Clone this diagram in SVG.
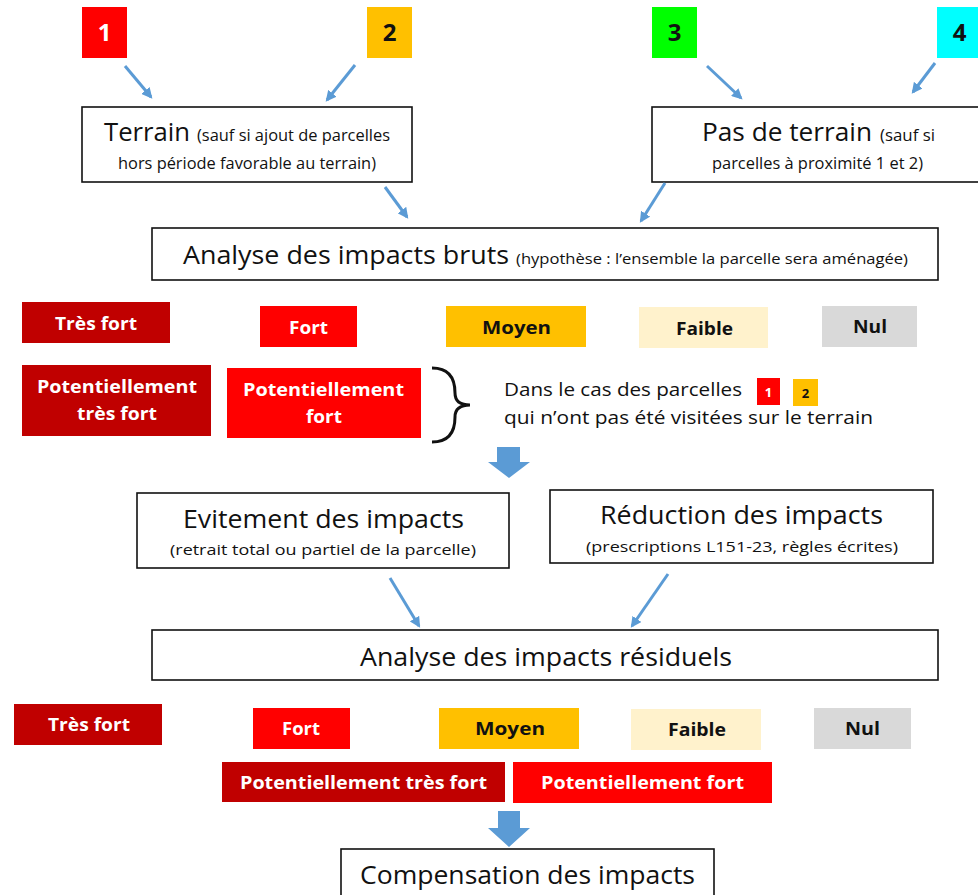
<svg xmlns="http://www.w3.org/2000/svg" width="978" height="895" viewBox="0 0 978 895">
<style>
text{font-family:"Open Sans","Noto Sans","Liberation Sans",sans-serif;fill:#111}
.b{font-weight:bold}
.w{fill:#fff}
.box{fill:#fff;stroke:#111;stroke-width:1.6}
.tf{fill:#C00000}.f{fill:#FF0000}.m{fill:#FFC000}.fa{fill:#FFF2CC}.n{fill:#D9D9D9}
.con{stroke:#5B9BD5;stroke-width:3;fill:none;marker-end:url(#ah)}
.big{fill:#5B9BD5}
</style>
<defs>
<marker id="ah" viewBox="0 0 10 10" refX="8" refY="5" markerWidth="3.6" markerHeight="3.6" orient="auto" markerUnits="strokeWidth">
<path d="M0,0 L10,5 L0,10 z" fill="#5B9BD5"/>
</marker>
</defs>

<g id="n1"><rect x="82" y="7" width="45" height="51" class="f"/><text x="104.5" y="41" font-size="24" class="b w" text-anchor="middle">1</text></g>
<g id="n2"><rect x="367" y="7" width="45" height="51" class="m"/><text x="389.5" y="41" font-size="24" class="b" text-anchor="middle">2</text></g>
<g id="n3"><rect x="652" y="7" width="45" height="51" fill="#00FF00"/><text x="674.5" y="41" font-size="24" class="b" text-anchor="middle">3</text></g>
<g id="n4"><rect x="937" y="7" width="45" height="51" fill="#00FFFF"/><text x="959.5" y="41" font-size="24" class="b" text-anchor="middle">4</text></g>

<g id="terrain"><rect x="82" y="107" width="330" height="75" class="box"/>
<text y="141" font-size="26"><tspan x="104" textLength="86" lengthAdjust="spacingAndGlyphs">Terrain</tspan></text>
<text x="197" y="141" font-size="16" textLength="193" lengthAdjust="spacingAndGlyphs">(sauf si ajout de parcelles</text>
<text x="118" y="169" font-size="16" textLength="258" lengthAdjust="spacingAndGlyphs">hors période favorable au terrain)</text></g>

<g id="pasterrain"><rect x="652" y="107" width="330" height="75" class="box"/>
<text x="702" y="141" font-size="26" textLength="170" lengthAdjust="spacingAndGlyphs">Pas de terrain</text>
<text x="880" y="141" font-size="16" textLength="55" lengthAdjust="spacingAndGlyphs">(sauf si</text>
<text x="712" y="169" font-size="16" textLength="211" lengthAdjust="spacingAndGlyphs">parcelles à proximité 1 et 2)</text></g>

<g id="bruts"><rect x="152" y="228" width="786" height="52" class="box"/>
<text x="183" y="264" font-size="26" textLength="326" lengthAdjust="spacingAndGlyphs">Analyse des impacts bruts</text>
<text x="516" y="264" font-size="15" textLength="392" lengthAdjust="spacingAndGlyphs">(hypothèse : l’ensemble la parcelle sera aménagée)</text></g>

<g id="r1-tf"><rect x="22" y="302" width="148" height="41" class="tf"/><text x="55" y="330" font-size="18" class="b w" textLength="82" lengthAdjust="spacingAndGlyphs">Très fort</text></g>
<g id="r1-f"><rect x="260" y="306" width="97" height="41" class="f"/><text x="289" y="334" font-size="18" class="b w" textLength="39" lengthAdjust="spacingAndGlyphs">Fort</text></g>
<g id="r1-m"><rect x="446" y="306" width="140" height="41" class="m"/><text x="482" y="334" font-size="18" class="b" textLength="69" lengthAdjust="spacingAndGlyphs">Moyen</text></g>
<g id="r1-fa"><rect x="639" y="307" width="129" height="41" class="fa"/><text x="676" y="335" font-size="18" class="b" textLength="57" lengthAdjust="spacingAndGlyphs">Faible</text></g>
<g id="r1-n"><rect x="822" y="306" width="95" height="41" class="n"/><text x="853" y="333" font-size="18" class="b" textLength="34" lengthAdjust="spacingAndGlyphs">Nul</text></g>

<g id="r2-ptf"><rect x="22" y="365" width="189" height="71" class="tf"/>
<text x="37" y="393" font-size="18" class="b w" textLength="160" lengthAdjust="spacingAndGlyphs">Potentiellement</text>
<text x="77" y="420" font-size="18" class="b w" textLength="80" lengthAdjust="spacingAndGlyphs">très fort</text></g>
<g id="r2-pf"><rect x="227" y="368" width="194" height="70" class="f"/>
<text x="243" y="396" font-size="18" class="b w" textLength="161" lengthAdjust="spacingAndGlyphs">Potentiellement</text>
<text x="306" y="423" font-size="18" class="b w" textLength="36" lengthAdjust="spacingAndGlyphs">fort</text></g>

<g id="brace"><path d="M432,368 C450,368 455,380 455,393 C455,401 460,405 470,405 C460,405 455,409 455,417 C455,430 450,442 432,442" fill="none" stroke="#111" stroke-width="3"/></g>
<g id="note">
<text x="504" y="396" font-size="18" textLength="238" lengthAdjust="spacingAndGlyphs">Dans le cas des parcelles</text>
<rect x="757" y="378" width="23" height="27" class="f"/><text x="768.5" y="397" font-size="13" class="b w" text-anchor="middle">1</text>
<rect x="793" y="379" width="25" height="27" class="m"/><text x="805.5" y="398" font-size="13" class="b" text-anchor="middle">2</text>
<text x="504" y="424" font-size="18" textLength="369" lengthAdjust="spacingAndGlyphs">qui n’ont pas été visitées sur le terrain</text></g>

<g id="evitement"><rect x="137" y="493" width="372" height="75" class="box"/>
<text x="183" y="528" font-size="26" textLength="281" lengthAdjust="spacingAndGlyphs">Evitement des impacts</text>
<text x="170" y="555" font-size="15" textLength="306" lengthAdjust="spacingAndGlyphs">(retrait total ou partiel de la parcelle)</text></g>

<g id="reduction"><rect x="550" y="490" width="383" height="73" class="box"/>
<text x="600" y="524" font-size="26" textLength="283" lengthAdjust="spacingAndGlyphs">Réduction des impacts</text>
<text x="586" y="552" font-size="15" textLength="312" lengthAdjust="spacingAndGlyphs">(prescriptions L151-23, règles écrites)</text></g>

<g id="residuels"><rect x="152" y="630" width="786" height="50" class="box"/>
<text x="360" y="666" font-size="26" textLength="372" lengthAdjust="spacingAndGlyphs">Analyse des impacts résiduels</text></g>

<g id="r3-tf"><rect x="14" y="704" width="148" height="41" class="tf"/><text x="48" y="731" font-size="18" class="b w" textLength="82" lengthAdjust="spacingAndGlyphs">Très fort</text></g>
<g id="r3-f"><rect x="253" y="708" width="97" height="41" class="f"/><text x="282" y="735" font-size="18" class="b w" textLength="38" lengthAdjust="spacingAndGlyphs">Fort</text></g>
<g id="r3-m"><rect x="439" y="708" width="140" height="41" class="m"/><text x="475" y="735" font-size="18" class="b" textLength="70" lengthAdjust="spacingAndGlyphs">Moyen</text></g>
<g id="r3-fa"><rect x="631" y="709" width="130" height="41" class="fa"/><text x="668" y="736" font-size="18" class="b" textLength="58" lengthAdjust="spacingAndGlyphs">Faible</text></g>
<g id="r3-n"><rect x="814" y="708" width="97" height="41" class="n"/><text x="845" y="735" font-size="18" class="b" textLength="35" lengthAdjust="spacingAndGlyphs">Nul</text></g>

<g id="r4-ptf"><rect x="222" y="762" width="283" height="40" class="tf"/><text x="240" y="789" font-size="18" class="b w" textLength="247" lengthAdjust="spacingAndGlyphs">Potentiellement très fort</text></g>
<g id="r4-pf"><rect x="513" y="762" width="259" height="41" class="f"/><text x="541" y="789" font-size="18" class="b w" textLength="203" lengthAdjust="spacingAndGlyphs">Potentiellement fort</text></g>

<g id="compensation"><rect x="341" y="849" width="373" height="50" class="box"/>
<text x="360" y="884" font-size="26" textLength="335" lengthAdjust="spacingAndGlyphs">Compensation des impacts</text></g>

<g id="connectors">
<line x1="125" y1="66" x2="151" y2="97" class="con"/>
<line x1="355" y1="65" x2="327" y2="100" class="con"/>
<line x1="707" y1="66" x2="741" y2="98" class="con"/>
<line x1="935" y1="63" x2="913" y2="92" class="con"/>
<line x1="385" y1="187" x2="407" y2="217" class="con"/>
<line x1="665" y1="183" x2="641" y2="221" class="con"/>
<line x1="390" y1="578" x2="419" y2="626" class="con"/>
<line x1="668" y1="574" x2="632" y2="626" class="con"/>
<path d="M497,447 H520 V462 H530 L509,478 L488,462 H497 Z" class="big"/>
<path d="M498,811 H520 V828 H530 L509,847 L488,828 H498 Z" class="big"/>
</g>
</svg>
